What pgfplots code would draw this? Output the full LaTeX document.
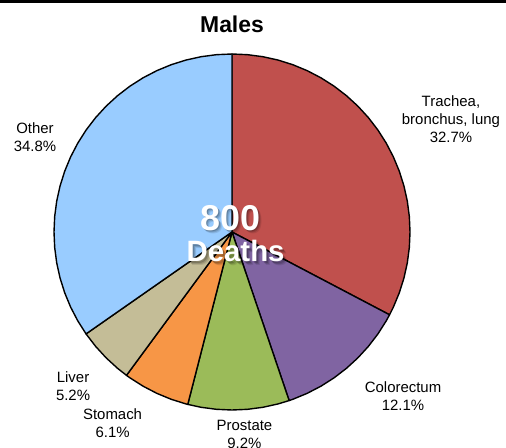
\documentclass[border=0pt]{standalone}
\usepackage{pgfplots}
\pgfplotsset{compat=1.18}
\usepackage{fontspec}
\setmainfont{Liberation Sans}

\definecolor{cTrach}{HTML}{C0504D}
\definecolor{cColo}{HTML}{8064A2}
\definecolor{cPros}{HTML}{9BBB59}
\definecolor{cStom}{HTML}{F79646}
\definecolor{cLiver}{HTML}{C4BD97}
\definecolor{cOther}{HTML}{99CCFF}

\newcommand{\lbl}{\fontsize{15}{18}\selectfont}
\newcommand{\bignum}{\bfseries\fontsize{36}{40}\selectfont}
\newcommand{\bigword}{\bfseries\fontsize{29.5}{34}\selectfont}

\begin{document}
\begin{tikzpicture}
% shares (%): trachea 32.7, colorectum 12.1, prostate 9.2, stomach 6.1, liver 5.2, other 34.8
% slices start at 12 o'clock and run clockwise; angle = 90 - 3.6*cumulative share
\begin{axis}[
    width=506bp, height=448bp,
    scale only axis,
    hide axis,
    clip=false,
    xmin=-1.3034, xmax=1.5393,
    ymin=-1.2135, ymax=1.3034,
    data cs=polar,
    every axis plot/.append style={draw=black, line width=1.4bp, line join=round, mark=none},
]
\addplot[fill=cTrach] coordinates {
    (0,0) (90,1) (85,1) (80,1) (75,1) (70,1) (65,1) (60,1) (55,1) (50,1) (45,1)
    (40,1) (35,1) (30,1) (25,1) (20,1) (15,1) (10,1) (5,1) (0,1) (-5,1) (-10,1)
    (-15,1) (-20,1) (-25,1) (-27.72,1)
} -- cycle;
\addplot[fill=cColo] coordinates {
    (0,0) (-27.72,1) (-30,1) (-35,1) (-40,1) (-45,1) (-50,1) (-55,1) (-60,1)
    (-65,1) (-70,1) (-71.28,1)
} -- cycle;
\addplot[fill=cPros] coordinates {
    (0,0) (-71.28,1) (-75,1) (-80,1) (-85,1) (-90,1) (-95,1) (-100,1) (-104.4,1)
} -- cycle;
\addplot[fill=cStom] coordinates {
    (0,0) (-104.4,1) (-105,1) (-110,1) (-115,1) (-120,1) (-125,1) (-126.36,1)
} -- cycle;
\addplot[fill=cLiver] coordinates {
    (0,0) (-126.36,1) (-130,1) (-135,1) (-140,1) (-145,1) (-145.08,1)
} -- cycle;
\addplot[fill=cOther] coordinates {
    (0,0) (-145.08,1) (-150,1) (-155,1) (-160,1) (-165,1) (-170,1) (-175,1)
    (-180,1) (-185,1) (-190,1) (-195,1) (-200,1) (-205,1) (-210,1) (-215,1)
    (-220,1) (-225,1) (-230,1) (-235,1) (-240,1) (-245,1) (-250,1) (-255,1)
    (-260,1) (-265,1) (-270,1)
} -- cycle;

% top rule
\fill[black] (rel axis cs:0,1) rectangle ([yshift=-2.7bp]rel axis cs:1,1);

% title
\node[anchor=base, font=\bfseries\fontsize{23}{27}\selectfont] at (axis cs:0,1.1236) {Males};

% slice labels
\node[align=center, font=\lbl] at (axis cs:1.230,0.635) {Trachea,\\bronchus, lung\\32.7\%};
\node[align=center, font=\lbl] at (axis cs:0.961,-0.921) {Colorectum\\12.1\%};
\node[align=center, font=\lbl] at (axis cs:0.070,-1.135) {Prostate\\9.2\%};
\node[align=center, font=\lbl] at (axis cs:-0.671,-1.073) {Stomach\\6.1\%};
\node[align=center, font=\lbl] at (axis cs:-0.893,-0.865) {Liver\\5.2\%};
\node[align=center, font=\lbl] at (axis cs:-1.107,0.534) {Other\\34.8\%};

% centre text with soft shadow
\node[anchor=base, opacity=0.10, font=\bignum] at ([xshift=3.5bp, yshift=-3.5bp]axis cs:-0.011,0.011) {800};
\node[anchor=base, opacity=0.14, font=\bignum] at ([xshift=2.5bp, yshift=-2.5bp]axis cs:-0.011,0.011) {800};
\node[anchor=base, opacity=0.18, font=\bignum] at ([xshift=1.5bp, yshift=-1.5bp]axis cs:-0.011,0.011) {800};
\node[anchor=base, opacity=0.10, font=\bigword] at ([xshift=3.5bp, yshift=-3.5bp]axis cs:0.02,-0.167) {Deaths};
\node[anchor=base, opacity=0.14, font=\bigword] at ([xshift=2.5bp, yshift=-2.5bp]axis cs:0.02,-0.167) {Deaths};
\node[anchor=base, opacity=0.18, font=\bigword] at ([xshift=1.5bp, yshift=-1.5bp]axis cs:0.02,-0.167) {Deaths};
\node[anchor=base, text=white, font=\bignum] at (axis cs:-0.011,0.011) {800};
\node[anchor=base, text=white, font=\bigword] at (axis cs:0.02,-0.167) {Deaths};
\end{axis}
\pgfresetboundingbox
\useasboundingbox (current axis.south west) rectangle (current axis.north east);
\end{tikzpicture}
\end{document}
